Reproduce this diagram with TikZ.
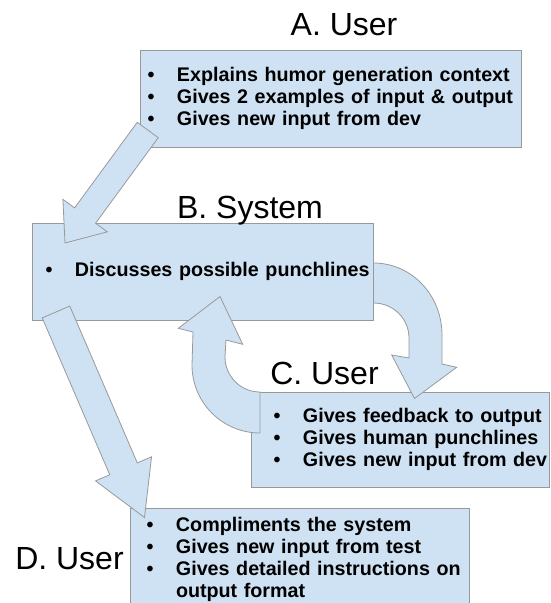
\documentclass[tikz,border=0pt]{standalone}
\usepackage{fontspec}
\setmainfont{Liberation Sans}
\usetikzlibrary{calc}
\definecolor{boxfill}{HTML}{CFE2F3}
\definecolor{boxline}{HTML}{999999}
\newcommand{\itemfont}{\fontsize{19.7}{22}\selectfont\bfseries}
\newcommand{\titlefont}{\fontsize{32}{36}\selectfont}
\newcommand{\itm}[1]{\makebox[29.5pt][l]{\textbullet}\mbox{#1}}
% tail, tip, half shaft, half head, head length
\newcommand{\blockarrow}[5]{%
  \coordinate (hb) at ($(#2)!#5!(#1)$);
  \draw[fatarrow] ($(#1)!#3!90:(#2)$) -- ($(hb)!#3!90:(#2)$) -- ($(hb)!#4!90:(#2)$) -- (#2)
    -- ($(hb)!#4!-90:(#2)$) -- ($(hb)!#3!-90:(#2)$) -- ($(#1)!#3!-90:(#2)$) -- cycle;
}
\tikzset{
  box/.style={draw=boxline, fill=boxfill, line width=0.8pt, anchor=north west,
    outer sep=0pt, inner ysep=0pt, align=left, font=\itemfont},
  title/.style={anchor=base, font=\titlefont},
  fatarrow/.style={draw=boxline, fill=boxfill, line width=0.8pt, line join=miter}
}

\begin{document}
\begin{tikzpicture}[x=1pt,y=-1pt]
	\useasboundingbox (0,0) rectangle (550,603);
	\clip (0,0) rectangle (550,603);
	% boxes
	\node[box, text width=366pt, inner xsep=7.5pt, minimum height=97pt] (usrA) at (140,50)
		{\itm{Explains humor generation context}\\ \itm{Gives 2 examples of input \& output}\\ \itm{Gives new input from dev}};
	\node[box, text width=314.5pt, inner xsep=13.5pt, minimum height=97pt] (sys) at (32,223)
		{\itm{Discusses possible punchlines}};
	\node[box, text width=253pt, inner xsep=22.5pt, minimum height=95pt] (usrC) at (251,392)
		{\itm{Gives feedback to output}\\ \itm{Gives human punchlines}\\ \itm{Gives new input from dev}};
	\node[box, text width=306pt, inner xsep=16.5pt, minimum height=103pt] (usrD) at (130,508)
		{\itm{Compliments the system}\\ \itm{Gives new input from test}\\ \itm{Gives detailed instructions on}\\ \hspace*{29.5pt}output format};
	% straight arrows
	\coordinate (ab1) at ($(usrA.south west)+(7.75,-17)$);
	\coordinate (ab2) at ($(sys.north west)+(33,20)$);
	\blockarrow{ab1}{ab2}{13pt}{27.5pt}{34pt}
	\coordinate (bd1) at ($(sys.south west)+(24,-8)$);
	\coordinate (bd2) at ($(usrD.north west)+(14.5,9.5)$);
	\blockarrow{bd1}{bd2}{15pt}{30.5pt}{53pt}
	% curved arrows
	\draw[fatarrow, shift={(sys.north east)}] (0,40) .. controls (38,40) and (68.5,72) .. (68.5,112)
		-- (68.5,141) -- (83.2,144.3) -- (41,175.5) -- (18.2,132) -- (35.5,135) -- (35.5,115)
		.. controls (35.5,95.7) and (19.8,80) .. (0,80) -- cycle;
	\draw[fatarrow, shift={(usrC.north west)}] (9,0) -- (9,41) .. controls (-28.6,41) and (-59,10.6) .. (-59,-27)
		-- (-58,-60) -- (-72.7,-63.7) -- (-31,-95.5) -- (-8.3,-47.7) -- (-25,-52) -- (-26,-35)
		.. controls (-26,-15.7) and (-10.3,0) .. (9,0) -- cycle;
	% titles
	\node[title] (tA) at (344,35) {A. User};
	\node[title] (tB) at (250,218.5) {B. System};
	\node[title] (tC) at (324.5,384) {C. User};
	\node[title] (tD) at (69.5,569.5) {D. User};
\end{tikzpicture}
\end{document}
